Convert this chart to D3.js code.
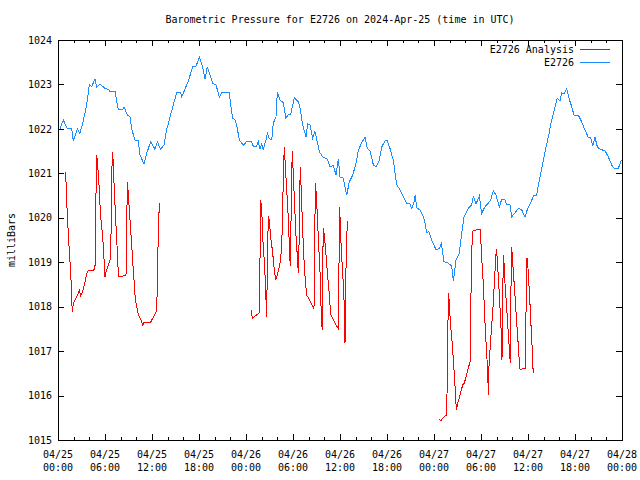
<!DOCTYPE html>
<html><head><meta charset="utf-8">
<script src="https://cdn.jsdelivr.net/npm/d3@7"></script>
<style>
body{margin:0;background:#fff}
text{font-family:"DejaVu Sans Mono","Liberation Mono",monospace;font-size:10px;fill:#000}
</style>
</head><body>
<svg id="chart" width="640" height="480"></svg>
<script>
const chartTitle = "Barometric Pressure for E2726 on 2024-Apr-25 (time in UTC)";
const yLabel = "milliBars";
const seriesNames = ["E2726 Analysis", "E2726"];
const seriesColors = ["#ff0000", "#1a8cff"];
// hours since 2024-04-25 00:00 UTC
const xTickHours = [0,6,12,18,24,30,36,42,48,54,60,66,72];
const xTickDates = ["04/25","04/25","04/25","04/25","04/26","04/26","04/26","04/26","04/27","04/27","04/27","04/27","04/28"];
const xTickTimes = ["00:00","06:00","12:00","18:00","00:00","06:00","12:00","18:00","00:00","06:00","12:00","18:00","00:00"];
const yTicks = [1015,1016,1017,1018,1019,1020,1021,1022,1023,1024];

// E2726 observations [hour, mbar]
const obsData = [[0.26,1022.01],[0.68,1022.2],[1.2,1022.0],[1.75,1022.0],[1.96,1021.73],[2.47,1022.0],[2.8,1021.9],[3.2,1022.16],[3.66,1022.54],[4.0,1022.99],[4.3,1022.95],[4.72,1023.12],[4.94,1022.94],[5.36,1023.01],[6.0,1022.91],[6.43,1022.89],[6.64,1022.84],[7.28,1022.84],[7.7,1022.43],[8.26,1022.43],[8.43,1022.5],[8.85,1022.31],[9.2,1022.27],[9.4,1022.0],[9.83,1021.75],[10.25,1021.73],[10.47,1021.41],[10.98,1021.21],[11.32,1021.45],[11.83,1021.71],[12.38,1021.54],[12.68,1021.71],[13.1,1021.54],[13.53,1021.64],[13.87,1021.98],[14.2,1022.2],[14.72,1022.54],[15.15,1022.81],[15.66,1022.81],[15.79,1022.72],[16.2,1022.89],[16.64,1023.08],[17.2,1023.4],[17.62,1023.41],[18.04,1023.61],[18.34,1023.47],[18.55,1023.32],[18.77,1023.12],[19.06,1023.4],[19.49,1023.17],[19.75,1023.03],[20.17,1022.99],[20.6,1022.72],[20.9,1022.82],[21.87,1022.82],[22.04,1022.54],[22.3,1022.24],[22.6,1022.2],[22.8,1022.1],[23.15,1021.75],[23.66,1021.63],[24.1,1021.72],[24.7,1021.72],[24.93,1021.61],[25.36,1021.61],[25.57,1021.71],[25.79,1021.54],[26.0,1021.66],[26.2,1021.54],[26.55,1021.75],[26.72,1021.9],[26.97,1021.79],[27.28,1021.75],[27.49,1022.13],[27.83,1022.27],[28.0,1022.82],[28.34,1022.65],[28.76,1022.59],[29.1,1022.24],[29.4,1022.33],[29.7,1022.33],[30.17,1022.7],[30.68,1022.61],[30.9,1022.46],[31.24,1022.09],[31.66,1021.82],[31.88,1022.11],[32.17,1022.09],[32.51,1021.79],[32.8,1021.94],[33.1,1021.71],[33.36,1021.49],[33.79,1021.37],[34.38,1021.32],[34.72,1021.14],[35.15,1021.18],[35.49,1020.96],[35.79,1021.32],[36.0,1020.92],[36.42,1020.89],[36.86,1020.51],[37.19,1020.81],[37.62,1020.96],[38.04,1021.22],[38.34,1021.52],[38.77,1021.69],[39.2,1021.81],[39.49,1021.56],[39.83,1021.51],[40.26,1021.19],[40.6,1021.14],[41.02,1021.3],[41.32,1021.59],[41.75,1021.73],[42.04,1021.73],[42.38,1021.56],[42.8,1021.3],[43.24,1020.74],[43.66,1020.63],[44.08,1020.47],[44.5,1020.33],[44.94,1020.31],[45.15,1020.21],[45.45,1020.36],[45.6,1020.51],[45.8,1020.22],[46.2,1020.18],[46.64,1020.02],[46.85,1019.88],[47.06,1019.67],[47.35,1019.69],[47.7,1019.5],[48.26,1019.28],[48.68,1019.31],[48.94,1019.42],[49.28,1019.01],[49.83,1018.98],[50.26,1018.91],[50.47,1018.58],[50.81,1019.05],[51.23,1019.2],[51.53,1019.65],[51.83,1020.02],[52.38,1020.21],[52.81,1020.29],[53.02,1020.49],[53.36,1020.31],[53.79,1020.49],[54.08,1020.1],[54.51,1020.25],[54.94,1020.33],[55.24,1020.4],[55.57,1020.61],[55.91,1020.51],[56.34,1020.25],[56.64,1020.41],[57.06,1020.4],[57.28,1020.29],[57.7,1020.29],[57.92,1020.02],[58.34,1020.11],[58.77,1020.21],[59.19,1020.18],[59.62,1020.02],[59.96,1020.21],[60.34,1020.33],[60.68,1020.49],[61.11,1020.51],[61.32,1020.74],[61.62,1021.0],[61.96,1021.3],[62.3,1021.59],[62.6,1021.82],[63.02,1022.2],[63.45,1022.5],[63.74,1022.69],[64.09,1022.63],[64.3,1022.81],[64.6,1022.79],[64.94,1022.91],[65.28,1022.66],[65.58,1022.5],[65.87,1022.31],[66.42,1022.31],[66.85,1022.16],[67.28,1021.97],[67.7,1021.81],[68.0,1021.81],[68.26,1021.61],[68.55,1021.81],[68.85,1021.6],[69.2,1021.54],[69.83,1021.51],[70.26,1021.37],[70.68,1021.19],[71.02,1021.11],[71.53,1021.11],[71.83,1021.26],[72.0,1021.3]];

// E2726 Analysis [hour, mbar]; null marks a gap
const anaData = [[0.89,1021.04],[1.02,1020.81],[1.11,1020.36],[1.23,1019.95],[1.36,1019.5],[1.53,1019.01],[1.66,1018.6],[1.74,1018.15],[1.83,1017.89],[1.96,1018.08],[2.3,1018.19],[2.6,1018.3],[2.72,1018.37],[2.9,1018.24],[3.15,1018.34],[3.45,1018.56],[3.74,1018.79],[4.0,1018.82],[4.51,1018.82],[4.72,1018.85],[4.81,1020.14],[4.94,1021.41],[5.06,1021.23],[5.15,1020.93],[5.28,1020.63],[5.36,1020.29],[5.49,1019.95],[5.66,1019.65],[5.79,1019.35],[5.92,1018.91],[6.0,1018.67],[6.13,1018.79],[6.43,1018.94],[6.64,1019.05],[6.77,1019.65],[6.85,1020.85],[6.94,1021.49],[7.06,1021.23],[7.15,1020.78],[7.28,1020.29],[7.4,1019.84],[7.53,1019.39],[7.66,1018.9],[7.74,1018.67],[8.13,1018.68],[8.68,1018.71],[8.77,1019.76],[8.85,1020.81],[8.94,1020.63],[9.06,1020.29],[9.19,1019.95],[9.32,1019.61],[9.45,1019.27],[9.57,1018.94],[9.7,1018.6],[9.83,1018.26],[9.96,1018.08],[10.13,1017.92],[10.3,1017.81],[10.47,1017.74],[10.68,1017.66],[10.81,1017.56],[10.9,1017.64],[11.83,1017.65],[12.09,1017.74],[12.38,1017.83],[12.6,1017.92],[12.68,1018.52],[12.81,1019.72],[12.94,1020.33],
null,
[24.64,1017.92],[24.81,1017.74],[25.15,1017.79],[25.7,1017.86],[25.79,1019.12],[25.87,1020.41],[26.0,1020.21],[26.09,1019.84],[26.17,1019.46],[26.3,1019.12],[26.43,1018.71],[26.51,1018.34],[26.64,1017.77],[26.72,1018.9],[26.85,1020.04],[26.98,1019.95],[27.04,1019.8],[27.15,1019.57],[27.28,1019.39],[27.41,1019.2],[27.57,1018.9],[27.79,1018.6],[28.0,1018.71],[28.26,1018.9],[28.43,1019.05],[28.64,1019.76],[28.77,1021.0],[28.89,1021.59],[28.98,1021.3],[29.1,1020.92],[29.27,1020.4],[29.4,1019.99],[29.49,1019.57],[29.58,1019.16],[29.66,1018.91],[29.74,1019.84],[29.83,1020.92],[29.91,1021.5],[30.04,1020.96],[30.17,1020.44],[30.3,1019.91],[30.43,1019.42],[30.55,1019.16],[30.68,1018.76],[30.77,1019.42],[30.85,1020.55],[30.94,1021.15],[31.06,1020.55],[31.19,1019.95],[31.32,1019.35],[31.45,1018.9],[31.62,1018.49],[31.74,1018.26],[32.08,1018.17],[32.38,1018.06],[32.68,1017.96],[32.77,1019.35],[32.85,1020.78],[32.98,1020.51],[33.11,1020.02],[33.23,1019.57],[33.36,1019.09],[33.49,1018.64],[33.62,1017.7],[33.74,1017.47],[33.79,1018.9],[33.87,1019.78],[34.0,1019.61],[34.13,1019.35],[34.26,1019.05],[34.38,1018.79],[34.51,1018.52],[34.64,1018.26],[34.81,1017.83],[35.15,1017.7],[35.49,1017.59],[35.79,1017.51],[35.87,1018.9],[35.96,1020.25],[36.09,1019.57],[36.21,1019.16],[36.34,1018.75],[36.47,1018.41],[36.55,1017.92],[36.64,1017.19],[36.72,1018.45],[36.81,1019.24],[36.94,1019.93],
null,
[48.68,1015.46],[48.85,1015.43],[49.19,1015.51],[49.62,1015.56],[49.74,1016.95],[49.83,1018.3],[49.96,1018.11],[50.04,1017.81],[50.17,1017.47],[50.34,1017.14],[50.47,1016.8],[50.6,1016.46],[50.72,1016.12],[50.85,1015.67],[50.98,1015.79],[51.15,1015.9],[51.32,1016.01],[51.49,1016.12],[51.66,1016.24],[51.87,1016.28],[52.04,1016.39],[52.26,1016.54],[52.43,1016.65],[52.6,1016.76],[52.72,1018.26],[52.89,1019.69],[53.11,1019.71],[53.66,1019.74],[53.92,1019.74],[54.0,1019.42],[54.13,1018.99],[54.3,1018.49],[54.43,1017.98],[54.55,1017.49],[54.72,1016.95],[54.85,1016.57],[54.94,1016.01],[55.02,1016.65],[55.15,1017.02],[55.32,1017.47],[55.49,1017.86],[55.62,1018.26],[55.75,1018.67],[55.87,1019.07],[55.96,1019.29],[56.08,1019.07],[56.21,1018.67],[56.34,1018.26],[56.47,1017.81],[56.6,1017.36],[56.68,1016.81],[56.77,1018.08],[56.85,1019.16],[56.94,1018.98],[57.02,1018.64],[57.15,1018.3],[57.28,1017.96],[57.4,1017.63],[57.53,1017.29],[57.66,1016.95],[57.74,1016.74],[57.83,1018.45],[57.92,1019.34],[58.0,1019.12],[58.13,1018.79],[58.26,1018.45],[58.38,1018.15],[58.51,1017.77],[58.64,1017.44],[58.77,1017.1],[58.89,1016.76],[58.98,1016.59],[59.32,1016.6],[59.62,1016.61],[59.7,1017.25],[59.79,1018.45],[59.87,1019.09],[60.0,1018.86],[60.13,1018.45],[60.26,1018.04],[60.38,1017.59],[60.51,1017.14],[60.6,1016.72],[60.68,1016.5]];

const svg = d3.select("#chart");
const L = 58, R = 622, T = 40, B = 440;
const x = d3.scaleLinear().domain([0, 72]).range([L, R]);
const y = d3.scaleLinear().domain([1015, 1024]).range([B, T]);
const minorHours = d3.range(0, 73, 2).filter(h => h % 6 !== 0);

function styleAxis(g) {
  g.select(".domain").remove();
  g.selectAll(".tick line").attr("stroke", "#000").attr("shape-rendering", "crispEdges");
}
// major & minor x ticks, bottom and top (inward)
svg.append("g").attr("transform", `translate(0,${B})`)
  .call(d3.axisBottom(x).tickValues(xTickHours).tickSize(-6).tickFormat("")).call(styleAxis);
svg.append("g").attr("transform", `translate(0,${B})`)
  .call(d3.axisBottom(x).tickValues(minorHours).tickSize(-3).tickFormat("")).call(styleAxis);
svg.append("g").attr("transform", `translate(0,${T})`)
  .call(d3.axisTop(x).tickValues(xTickHours).tickSize(-6).tickFormat("")).call(styleAxis);
svg.append("g").attr("transform", `translate(0,${T})`)
  .call(d3.axisTop(x).tickValues(minorHours).tickSize(-3).tickFormat("")).call(styleAxis);
// y ticks
const yAxisL = svg.append("g").attr("transform", `translate(${L},0)`)
  .call(d3.axisLeft(y).tickValues(yTicks).tickSize(-6).tickPadding(6).tickFormat(d3.format("d")));
styleAxis(yAxisL);
yAxisL.attr("font-size", null).attr("font-family", null);
svg.append("g").attr("transform", `translate(${R},0)`)
  .call(d3.axisRight(y).tickValues(yTicks).tickSize(-6).tickFormat("")).call(styleAxis);

// x labels (two lines)
const xl = svg.append("g");
xTickHours.forEach((h, i) => {
  const t = xl.append("text").attr("text-anchor", "middle").attr("x", x(h));
  t.append("tspan").attr("x", x(h)).attr("y", 458).text(xTickDates[i]);
  t.append("tspan").attr("x", x(h)).attr("y", 471).text(xTickTimes[i]);
});

// frame
svg.append("rect").attr("x", L).attr("y", T).attr("width", R - L).attr("height", B - T)
  .attr("fill", "none").attr("stroke", "#000").attr("shape-rendering", "crispEdges");

// lines (aliased like the original bitmap plot)
const line = d3.line().defined(d => d !== null).x(d => x(d[0])).y(d => y(d[1]));
svg.append("path").datum(obsData).attr("d", line).attr("fill", "none")
  .attr("stroke", seriesColors[1]).attr("stroke-width", 1).attr("shape-rendering", "crispEdges");
svg.append("path").datum(anaData).attr("d", line).attr("fill", "none")
  .attr("stroke", seriesColors[0]).attr("stroke-width", 1).attr("shape-rendering", "crispEdges");

// title & y label
svg.append("text").attr("x", 340).attr("y", 23).attr("text-anchor", "middle").text(chartTitle);
svg.append("text").attr("transform", "translate(15,240) rotate(-90)").attr("text-anchor", "middle").text(yLabel);

// legend
seriesNames.forEach((n, i) => {
  const ly = 49 + i * 13;
  svg.append("text").attr("x", 574).attr("y", ly).attr("dy", "0.35em").attr("text-anchor", "end").text(n);
  svg.append("line").attr("x1", 580).attr("x2", 610).attr("y1", ly).attr("y2", ly)
    .attr("stroke", seriesColors[i]).attr("shape-rendering", "crispEdges");
});
</script>
</body></html>
